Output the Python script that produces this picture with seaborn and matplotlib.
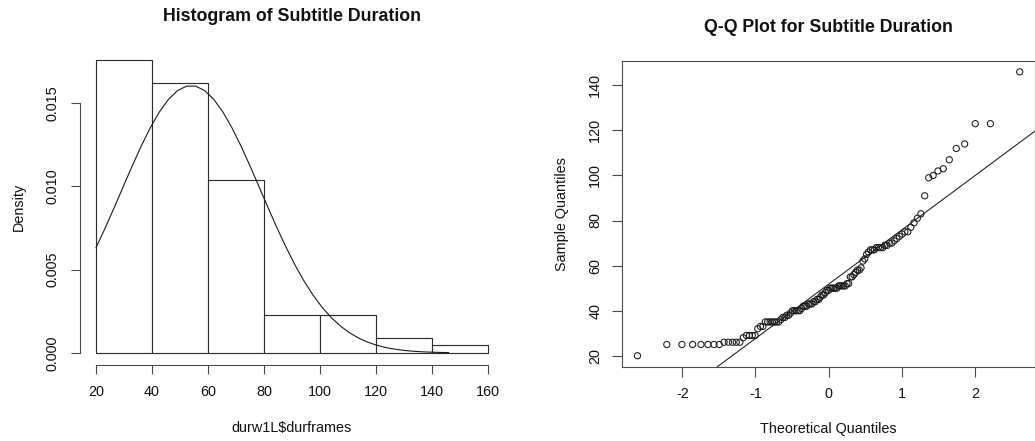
import numpy as np
import pandas as pd
import matplotlib
matplotlib.use("Agg")
import matplotlib.pyplot as plt
import seaborn as sns

# ---- data (subtitle durations in frames, n = 111) ----
durframes = [
    20,
    25, 25, 25, 25, 25, 25, 25,
    26, 26, 26, 26, 26,
    28,
    29, 29, 29, 29,
    32, 33, 33,
    35, 35, 35, 35, 35, 35, 35,
    36, 37, 37, 38, 38, 39,
    40, 40, 40, 40, 40,
    41, 42, 42, 42, 43, 43, 43, 44, 44, 45, 45, 46, 47, 47, 48, 49, 49,
    50, 50, 50, 50, 50, 51, 51, 51, 51, 51, 52, 52,
    55, 55, 56, 57, 58, 58, 59,
    62, 63, 65, 66, 67, 67, 67, 68, 68, 68, 68, 69, 69, 70, 70, 71, 72, 73,
    74, 75, 75, 77, 79,
    81, 83, 91, 99, 100,
    102, 103, 107, 112, 114,
    123, 123,
    146,
]
hist_breaks = [20, 40, 60, 80, 100, 120, 140, 160]
hist_yticks = [0.000, 0.005, 0.010, 0.015]
qq_xticks = [-2, -1, 0, 1, 2]
qq_yticks = [20, 40, 60, 80, 100, 120, 140]

x = np.array(durframes, dtype=float)
n = len(x)

sns.set_theme(style="white")
plt.rcParams["font.family"] = ["Liberation Sans", "DejaVu Sans"]
TXT = "#111111"
LN = "#4a4a4a"
plt.rcParams.update({
    "text.color": TXT, "axes.labelcolor": TXT,
    "xtick.color": LN, "ytick.color": LN,
    "xtick.labelcolor": TXT, "ytick.labelcolor": TXT,
    "axes.edgecolor": LN, "axes.linewidth": 0.8,
    "xtick.major.width": 0.8, "ytick.major.width": 0.8,
})

W, H = 1035, 441
fig = plt.figure(figsize=(W / 100, H / 100), dpi=100)

def rect(l, t, r, b):
    return [l / W, 1 - b / H, (r - l) / W, (b - t) / H]

TICK_FS = 10.4
TITLE_FS = 12.8

# ---------------- histogram ----------------
ax1 = fig.add_axes(rect(80.3, 48.4, 503.7, 364.6))
# R hist() uses right-closed bins (a, b]
bins = np.array(hist_breaks, dtype=float)
bins[1:] += 1e-6
df = pd.DataFrame({"durframes": x})
sns.histplot(data=df, x="durframes", bins=bins, stat="density", ax=ax1,
             color="white", edgecolor="#2a2a2a", linewidth=0.8, alpha=1.0)
xfit = np.linspace(x.min(), x.max(), 40)
mu, sd = x.mean(), x.std(ddof=1)
yfit = np.exp(-0.5 * ((xfit - mu) / sd) ** 2) / (sd * np.sqrt(2 * np.pi))
sns.lineplot(x=xfit, y=yfit, ax=ax1, color="#1a1a1a", linewidth=0.8)

counts, _ = np.histogram(x, bins=bins)
dens_max = (counts / (n * np.diff(bins))).max()
ax1.set_xlim(20 - 0.04 * 140, 160 + 0.04 * 140)
ax1.set_ylim(-0.04 * dens_max, dens_max * 1.04)
ax1.set_xticks(hist_breaks)
ax1.set_xticklabels([str(v) for v in hist_breaks])
ax1.set_yticks(hist_yticks)
ax1.set_yticklabels([f"{v:.3f}" for v in hist_yticks])
for s in ["top", "right"]:
    ax1.spines[s].set_visible(False)
ax1.spines["left"].set_bounds(hist_yticks[0], hist_yticks[-1])
ax1.spines["bottom"].set_bounds(hist_breaks[0], hist_breaks[-1])
ax1.tick_params(axis="both", direction="out", length=6.8, pad=8.0,
                labelsize=TICK_FS, bottom=True, left=True)
for lbl in ax1.get_yticklabels():
    lbl.set_rotation(90)
    lbl.set_va("center")
ax1.set_title("Histogram of Subtitle Duration", fontsize=TITLE_FS,
              fontweight="bold", pad=20)
ax1.set_xlabel("durw1L$durframes", fontsize=TICK_FS)
ax1.set_ylabel("Density", fontsize=TICK_FS)
ax1.xaxis.set_label_coords(0.5, -0.199)
ax1.xaxis.label.set_va("center")
ax1.yaxis.set_label_coords(-0.146, 0.5)
ax1.yaxis.label.set_va("center")

# ---------------- Q-Q plot ----------------
ax2 = fig.add_axes(rect(622.2, 60.5, 1035.0, 367.1))
p = (np.arange(1, n + 1) - 0.5) / n
from statistics import NormalDist
nd = NormalDist()
theo = np.array([nd.inv_cdf(v) for v in p])
samp = np.sort(x)
sns.scatterplot(x=theo, y=samp, ax=ax2, marker="o", s=20,
                facecolor="none", edgecolor="#1a1a1a", linewidth=0.75)
q1, q3 = np.quantile(samp, [0.25, 0.75])
t1, t3 = nd.inv_cdf(0.25), nd.inv_cdf(0.75)
slope = (q3 - q1) / (t3 - t1)
intercept = q1 - slope * t1
ax2.axline((0, intercept), slope=slope, color="#1a1a1a", linewidth=0.75)
tr = theo.max() - theo.min()
sr = samp.max() - samp.min()
ax2.set_xlim(theo.min() - 0.04 * tr, theo.max() + 0.04 * tr)
ax2.set_ylim(samp.min() - 0.04 * sr, samp.max() + 0.04 * sr)
ax2.set_xticks(qq_xticks)
ax2.set_xticklabels([str(v) for v in qq_xticks])
ax2.set_yticks(qq_yticks)
ax2.set_yticklabels([str(v) for v in qq_yticks])
ax2.tick_params(axis="both", direction="out", length=7.2, pad=7.2,
                labelsize=TICK_FS, bottom=True, left=True)
for lbl in ax2.get_yticklabels():
    lbl.set_rotation(90)
    lbl.set_va("center")
ax2.set_title("Q-Q Plot for Subtitle Duration", fontsize=TITLE_FS,
              fontweight="bold", pad=20.5)
ax2.set_xlabel("Theoretical Quantiles", fontsize=TICK_FS)
ax2.set_ylabel("Sample Quantiles", fontsize=TICK_FS)
ax2.xaxis.set_label_coords(0.5, -0.202)
ax2.xaxis.label.set_va("center")
ax2.yaxis.set_label_coords(-0.145, 0.5)
ax2.yaxis.label.set_va("center")

fig.savefig("out.png", dpi=100, facecolor="white")
